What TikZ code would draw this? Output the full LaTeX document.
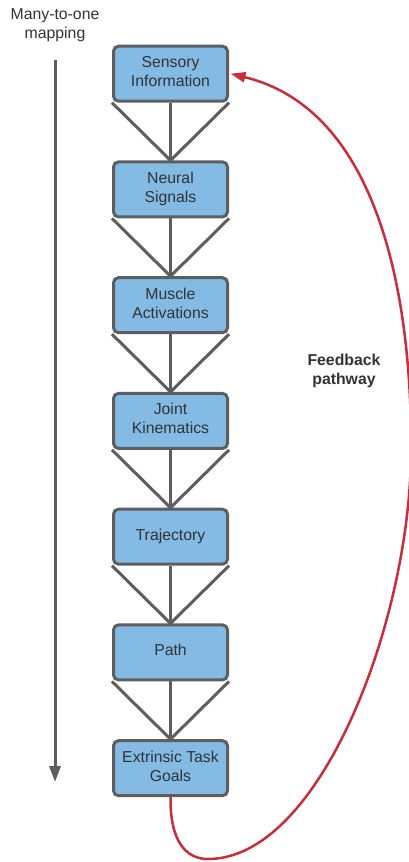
\documentclass[tikz,border=0pt]{standalone}
\usepackage{fontspec}
\setmainfont{Liberation Sans}
\usetikzlibrary{arrows.meta}
\definecolor{boxfill}{HTML}{83BBE5}
\definecolor{edgegray}{HTML}{5E5E5E}
\definecolor{txtgray}{HTML}{333333}
\definecolor{fbred}{HTML}{C92D39}
\pgfdeclarelayer{paper}
\pgfdeclarelayer{fans}
\pgfsetlayers{paper,fans,main}
\tikzset{
  stage/.style={draw=edgegray, fill=boxfill, line width=3pt, rounded corners=5pt,
    minimum width=114pt, minimum height=55pt, inner sep=0pt, align=center,
    text depth=4.3pt, text=txtgray, font=\fontsize{15.8}{19}\selectfont},
  fan/.style={draw=edgegray, line width=3pt},
  label/.style={text=txtgray, align=center, inner sep=0pt, font=\fontsize{15.8}{19}\selectfont},
  axis/.style={draw=edgegray, line width=3pt, -{Triangle[length=16pt,width=11pt]}},
  feedback/.style={draw=fbred, line width=2.5pt, -{Triangle[length=15pt,width=10pt]}}
}
\begin{document}
\begin{tikzpicture}[x=1pt,y=-1pt]
\useasboundingbox (0,0) rectangle (409,862);
\begin{pgfonlayer}{paper}
\fill[white] (0,0) rectangle (409,862);
\end{pgfonlayer}

% stages of the motor hierarchy
\node[stage] (s1) at (170.5,73.7)  {Sensory\\Information};
\node[stage] (s2) at (170.5,189.4) {Neural\\Signals};
\node[stage] (s3) at (170.5,305.2) {Muscle\\Activations};
\node[stage] (s4) at (170.5,420.9) {Joint\\Kinematics};
\node[stage] (s5) at (170.5,536.7) {Trajectory};
\node[stage] (s6) at (170.5,652.4) {Path};
\node[stage] (s7) at (170.5,768.2) {Extrinsic Task\\Goals};

% fans joining each stage to the next, kept under the boxes
\begin{pgfonlayer}{fans}
\foreach \a/\b in {s1/s2,s2/s3,s3/s4,s4/s5,s5/s6,s6/s7}{
  \draw[fan] (\a.south west) -- (\b.north) -- (\a.south east);
  \draw[fan] (\a.south) -- (\b.north);
}
\end{pgfonlayer}

% many-to-one axis
\node[label] (mlabel) at (55,25) {Many-to-one\\mapping};
\coordinate (mtop) at (55,60);
\coordinate (mbot) at (55,782);
\draw[axis] (mtop) -- (mbot);

% feedback loop
\coordinate (fb1) at (208,859);
\coordinate (fb2) at (411,450);
\draw[feedback] (s7.south) .. controls (170,840) and (185,859) .. (fb1)
  .. controls (320,859) and (411,620) .. (fb2)
  .. controls (412,300) and (380,110) .. ([xshift=1.5pt]s1.east);
\node[label, font=\bfseries\fontsize{15.8}{19}\selectfont] (fblabel) at (344,371) {Feedback\\pathway};
\end{tikzpicture}
\end{document}
